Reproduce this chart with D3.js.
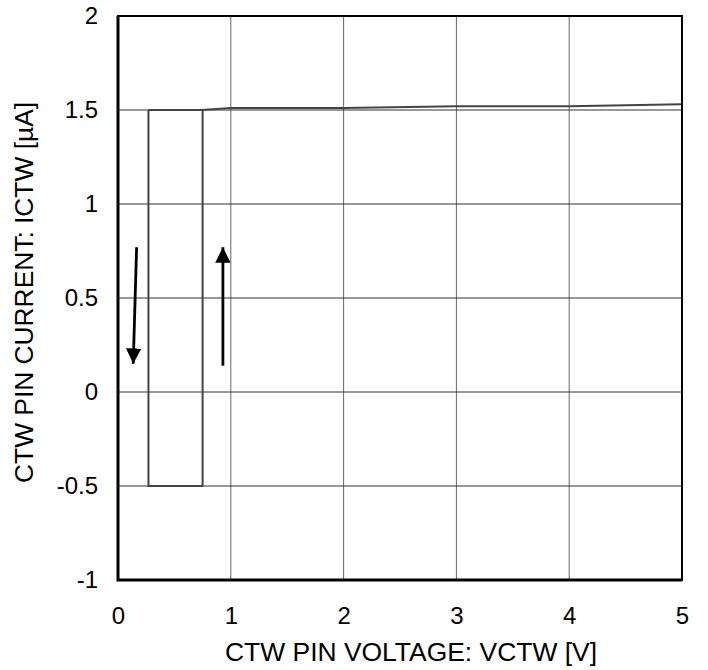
<!DOCTYPE html>
<html>
<head>
<meta charset="utf-8">
<script src="https://cdn.jsdelivr.net/npm/d3@7"></script>
<style>
  body { margin: 0; background: #fff; }
  text { font-family: "Liberation Sans", Arial, sans-serif; fill: #000; }
</style>
</head>
<body>
<div class="chart"></div>
<script>
// hysteresis loop of the CTW pin
var voltage = [0.27, 0.27, 0.75, 0.75, 1, 2, 3, 4, 5];
var current = [1.5, -0.5, -0.5, 1.5, 1.51, 1.51, 1.52, 1.52, 1.53];
var loopStart = [0.75, 0.27];   // top segment joins back to the falling edge
var xTicks = [0, 1, 2, 3, 4, 5];
var yTicks = [-1, -0.5, 0, 0.5, 1, 1.5, 2];
// direction arrows [x1, y1, x2, y2] in data units
var arrowDown = [0.165, 0.77, 0.135, 0.15];
var arrowUp = [0.93, 0.14, 0.93, 0.77];

var margin = { top: 16, right: 26, bottom: 90, left: 118 };
var width = 708 - margin.left - margin.right;
var height = 670 - margin.top - margin.bottom;

var svg = d3.select('.chart')
  .append('svg')
    .attr('width', 708)
    .attr('height', 670)
  .append('g')
    .attr('transform', `translate(${margin.left}, ${margin.top})`);

var xScale = d3.scaleLinear().domain([0, 5]).range([0, width]);
var yScale = d3.scaleLinear().domain([-1, 2]).range([height, 0]);

// grid
svg.selectAll('.vgrid')
  .data(xTicks)
  .enter().append('line')
    .attr('x1', d => xScale(d)).attr('x2', d => xScale(d))
    .attr('y1', 0).attr('y2', height)
    .style('stroke', '#666').style('stroke-width', 1);

svg.selectAll('.hgrid')
  .data(yTicks)
  .enter().append('line')
    .attr('x1', 0).attr('x2', width)
    .attr('y1', d => yScale(d)).attr('y2', d => yScale(d))
    .style('stroke', '#333').style('stroke-width', 1);

// curve
var pts = voltage.map((v, i) => [v, current[i]]);
var line = d3.line().x(d => xScale(d[0])).y(d => yScale(d[1]));
svg.append('path')
  .attr('d', line(pts))
  .style('fill', 'none').style('stroke', '#444').style('stroke-width', 2);
svg.append('path')
  .attr('d', line([[loopStart[0], 1.5], [loopStart[1], 1.5]]))
  .style('fill', 'none').style('stroke', '#444').style('stroke-width', 2);

// arrows
svg.append('defs').append('marker')
  .attr('id', 'head')
  .attr('viewBox', '0 0 10 10')
  .attr('refX', 10).attr('refY', 5)
  .attr('markerWidth', 5.5).attr('markerHeight', 5.5)
  .attr('markerUnits', 'strokeWidth')
  .attr('orient', 'auto')
  .append('path')
    .attr('d', 'M0,0L10,5L0,10Z')
    .style('fill', '#000');

[arrowDown, arrowUp].forEach(a => {
  svg.append('line')
    .attr('x1', xScale(a[0])).attr('y1', yScale(a[1]))
    .attr('x2', xScale(a[2])).attr('y2', yScale(a[3]))
    .style('stroke', '#000').style('stroke-width', 2.8)
    .attr('marker-end', 'url(#head)');
});

// frame
svg.append('rect')
  .attr('width', width).attr('height', height)
  .style('fill', 'none').style('stroke', '#000').style('stroke-width', 2);
svg.append('path')
  .attr('d', `M0,0V${height}H${width}`)
  .style('fill', 'none').style('stroke', '#000').style('stroke-width', 3);

// axes
var xAxis = d3.axisBottom(xScale).tickValues(xTicks).tickSize(0).tickPadding(27)
  .tickFormat(d3.format('d'));
svg.append('g')
  .attr('transform', `translate(0, ${height})`)
  .call(xAxis)
  .call(g => g.select('.domain').remove())
  .selectAll('text').style('font-size', '24px')
    .style('font-family', '"Liberation Sans", Arial, sans-serif').style('fill', '#000');

var yAxis = d3.axisLeft(yScale).tickValues(yTicks).tickSize(0).tickPadding(20)
  .tickFormat(d => String(d));
svg.append('g')
  .call(yAxis)
  .call(g => g.select('.domain').remove())
  .selectAll('text').style('font-size', '24px')
    .style('font-family', '"Liberation Sans", Arial, sans-serif').style('fill', '#000');

// axis titles
svg.append('text')
  .attr('x', 411 - margin.left).attr('y', 661 - margin.top)
  .attr('text-anchor', 'middle')
  .attr('textLength', 372).attr('lengthAdjust', 'spacingAndGlyphs')
  .style('font-size', '25px')
  .text('CTW PIN VOLTAGE: VCTW [V]');

svg.append('text')
  .attr('transform', `translate(${33 - margin.left}, ${292.5 - margin.top}) rotate(-90)`)
  .attr('text-anchor', 'middle')
  .attr('textLength', 381).attr('lengthAdjust', 'spacingAndGlyphs')
  .style('font-size', '25px')
  .text('CTW PIN CURRENT: ICTW [µA]');
</script>
</body>
</html>
